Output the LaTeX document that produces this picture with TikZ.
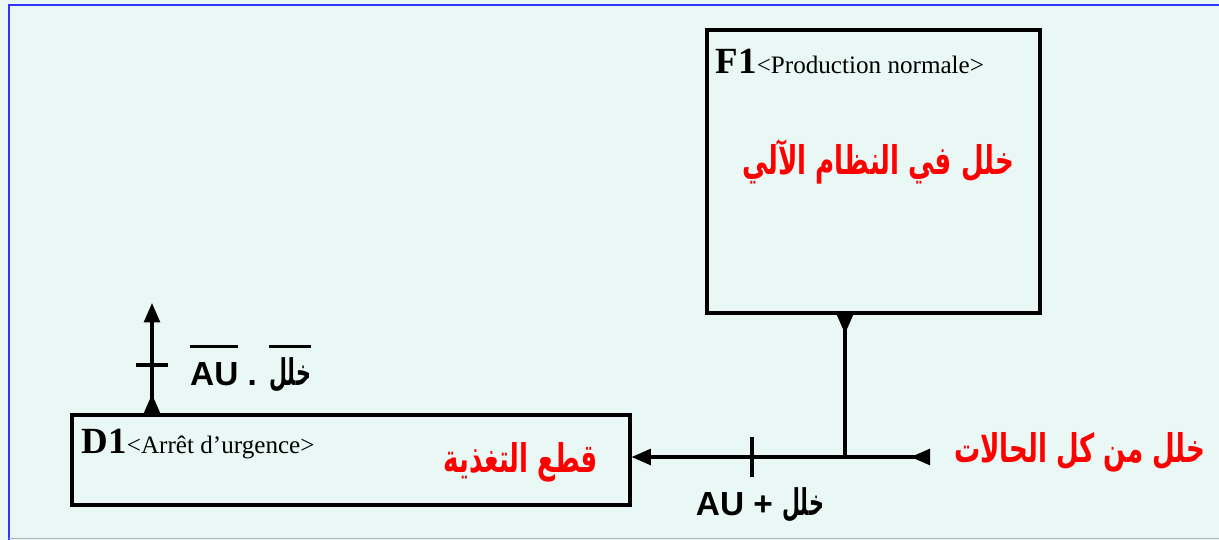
\documentclass[tikz,border=0pt]{standalone}
\usepackage{fontspec}
\setmainfont{Liberation Serif}
\newfontfamily\arialfont{Liberation Sans}
\newfontfamily\arabicfont[Script=Arabic]{DejaVu Sans}
\TeXXeTstate=1
\usetikzlibrary{arrows.meta, positioning, shadows}
\definecolor{bgmint}{RGB}{234,248,245}
\definecolor{frameblue}{RGB}{51,51,255}
\newcommand\surligne[1]{\setbox0\hbox{#1}\rlap{\rule[1.12em]{\wd0}{1.6pt}}\box0\relax}
\newcommand\ar[1]{\scalebox{0.62}[1.1]{\arabicfont\bfseries\beginR #1\endR}}
\newcommand\arrouge[1]{\scalebox{0.66}[1]{\beginR #1\endR}}

\begin{document}
\begin{tikzpicture}[x=0.02cm, y=-0.02cm,
  etape/.style={rectangle, draw=black, line width=1.8pt, fill=bgmint, inner sep=0pt,
    drop shadow={opacity=0.25, shadow xshift=1.2pt, shadow yshift=-1.2pt, fill=black}},
  titre/.style={inner sep=0pt, anchor=north west},
  rouge/.style={text=red, font=\arabicfont\bfseries\fontsize{22.5}{26}\selectfont},
  cond/.style={font=\arialfont\bfseries\fontsize{19}{23}\selectfont},
  lien/.style={line width=1.8pt},
  tip/.tip={Triangle[length=11pt, width=9pt]}
]
  % fond et cadre
  \useasboundingbox (0,0) rectangle (1219,540);
  \fill[bgmint] (0,0) rectangle (1219,540);
  \draw[frameblue, line width=1.3pt] (1219,5) -- (9,5) -- (9,540);
  \draw[gray!60, line width=0.7pt] (9,538.5) -- (1219,538.5);

  % etapes
  \node[etape, minimum width=6.66cm, minimum height=5.66cm] (f1) at (873.5,171.5) {};
  \node[etape, minimum width=11.16cm, minimum height=1.8cm] (d1) at (351,460) {};

  \node[titre, below right=0.4cm and 0.2cm of f1.north west]
    {\fontsize{21}{24}\selectfont\textbf{F1}\fontsize{14.3}{16}\selectfont<Production normale>};
  \node[titre, below right=0.3cm and 0.22cm of d1.north west]
    {\fontsize{21}{24}\selectfont\textbf{D1}\fontsize{14.3}{16}\selectfont<Arrêt d’urgence>};
  \node[rouge] (t1) at (878,162) {\arrouge{خلل في النظام الآلي}};
  \node[rouge] (t2) at (521,462) {\arrouge{قطع التغذية}};

  % liaisons
  \coordinate (src) at (930,457);
  \coordinate (j) at (845,457);
  \coordinate (haut) at (152,303);
  \node[rouge, anchor=west] (s) at (948,452) {\arrouge{خلل من كل الحالات}};

  \draw[lien, {tip[reversed]}-{tip}] (src) -- (d1.east |- src);
  \draw[lien, {tip[reversed]}-] (j |- f1.south) -- (j);
  \draw[lien, {tip[reversed]}-{tip}] (haut |- d1.north) -- (haut);

  % receptivites
  \coordinate (r1) at (152,365);
  \coordinate (r2) at (752,457);
  \draw[lien] ([xshift=-16*0.02cm]r1) -- ([xshift=16*0.02cm]r1);
  \draw[lien] ([yshift=20*0.02cm]r2) -- ([yshift=-20*0.02cm]r2);
  \node[cond, anchor=base west] (c1) at (184,385)
    {\surligne{AU} . \surligne{\ar{خلل}}};
  \node[cond, anchor=base] (c2) at (760,515) {AU + \ar{خلل}};
\end{tikzpicture}
\end{document}
